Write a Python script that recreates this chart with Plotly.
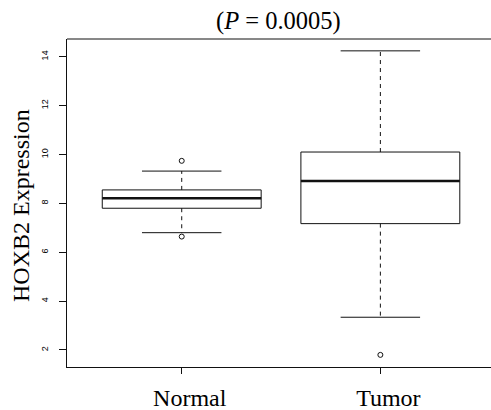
import plotly.graph_objects as go

# ---- data ----
groups = ["Normal", "Tumor"]
q1 = [7.80, 7.17]
medians = [8.21, 8.91]
q3 = [8.55, 10.10]
whisker_lo = [6.80, 3.34]
whisker_hi = [9.32, 14.24]
outliers = [[9.74, 6.64], [1.80]]
y_ticks = [2, 4, 6, 8, 10, 12, 14]
title_text = "(<i>P</i> = 0.0005)"
y_title = "HOXB2 Expression"

# ---- style ----
BOX_HALF = 0.4
CAP_HALF = 0.2
LINE = "#111111"
SERIF = "Liberation Serif, Times New Roman, serif"
SANS = "Liberation Sans, Arial, sans-serif"

fig = go.Figure()
for i, g in enumerate(groups):
    xc = i + 1
    # box
    fig.add_trace(go.Scatter(
        x=[xc - BOX_HALF, xc + BOX_HALF, xc + BOX_HALF, xc - BOX_HALF, xc - BOX_HALF],
        y=[q1[i], q1[i], q3[i], q3[i], q1[i]],
        mode="lines", line=dict(color=LINE, width=1), fill="toself",
        fillcolor="white", hoverinfo="skip", showlegend=False))
    # whiskers (dashed)
    fig.add_trace(go.Scatter(
        x=[xc, xc, None, xc, xc],
        y=[q3[i], whisker_hi[i], None, q1[i], whisker_lo[i]],
        mode="lines", line=dict(color=LINE, width=1, dash="4px,4px"),
        hoverinfo="skip", showlegend=False))
    # caps
    fig.add_trace(go.Scatter(
        x=[xc - CAP_HALF, xc + CAP_HALF, None, xc - CAP_HALF, xc + CAP_HALF],
        y=[whisker_hi[i], whisker_hi[i], None, whisker_lo[i], whisker_lo[i]],
        mode="lines", line=dict(color=LINE, width=1),
        hoverinfo="skip", showlegend=False))
    # median
    fig.add_trace(go.Scatter(
        x=[xc - BOX_HALF, xc + BOX_HALF], y=[medians[i], medians[i]],
        mode="lines", line=dict(color=LINE, width=2.5),
        hoverinfo="skip", showlegend=False))
    # outliers
    fig.add_trace(go.Scatter(
        x=[xc] * len(outliers[i]), y=outliers[i], mode="markers",
        marker=dict(symbol="circle-open", size=5, color=LINE, line=dict(width=1)),
        hoverinfo="skip", showlegend=False))

fig.update_layout(
    width=491, height=410, autosize=False,
    margin=dict(l=67, r=0, t=39, b=43),
    plot_bgcolor="white", paper_bgcolor="white",
    showlegend=False,
    xaxis=dict(
        range=[0.4225, 2.557], tickvals=[1, 2], ticktext=groups,
        showgrid=False, zeroline=False, showline=True, linecolor=LINE, linewidth=1,
        ticks="outside", ticklen=6, tickcolor=LINE, tickwidth=1,
        ticklabelstandoff=3, ticklabelshift=8,
        tickfont=dict(family=SERIF, size=24, color="black"), automargin=False),
    yaxis=dict(
        range=[1.304, 14.725], tickvals=y_ticks,
        showgrid=False, zeroline=False, showline=True, linecolor=LINE, linewidth=1,
        ticks="outside", ticklen=7, tickcolor=LINE, tickwidth=1, tickangle=-90,
        ticklabelstandoff=7,
        tickfont=dict(family=SANS, size=9, color="black"), automargin=False),
    annotations=[
        dict(text=title_text, xref="paper", yref="paper", x=0.499, y=1.055,
             xanchor="center", yanchor="middle", showarrow=False,
             font=dict(family=SERIF, size=24.5, color="black")),
        dict(text=y_title, xref="paper", yref="paper", x=-0.1085, y=0.494,
             xanchor="center", yanchor="middle", textangle=-90, showarrow=False,
             font=dict(family=SERIF, size=24, color="black")),
    ],
    shapes=[dict(type="line", xref="paper", yref="paper", x0=0, x1=1, y0=1, y1=1,
                 line=dict(color=LINE, width=1))],
)

fig.write_html("out.html", config={"displayModeBar": False},
               post_script="document.body.style.margin='0';document.body.style.padding='0';")
